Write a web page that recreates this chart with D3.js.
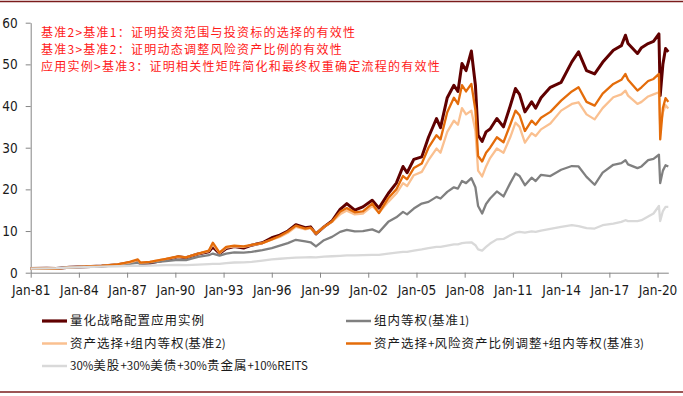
<script src='https://d3js.org/d3.v7.min.js'></script>

<style>
  body {
    margin: 0;
    background: #fff;
  }

  svg text {
    font-family: "Liberation Sans Narrow", "DejaVu Sans Condensed", Arial, sans-serif;
  }

  .axis path,
  .axis line {
    stroke: #868686;
  }

  .axis text {
    fill: #1a1a1a;
    font-size: 13.5px;
  }

  .note text {
    fill: #ff1a1a;
    font-family: "Noto Sans CJK SC", sans-serif;
    font-size: 12px;
    letter-spacing: 1.25px;
  }

  .legend text {
    fill: #1a1a1a;
    font-family: "Noto Sans CJK SC", sans-serif;
    font-size: 12.5px;
    letter-spacing: 1px;
  }

  .legend tspan.latin {
    font-size: 11.5px;
    letter-spacing: 0;
  }
</style>

<body>
<script>
  // monthly points (not every month)
  var dates = ["1981-01", "1982-01", "1982-08", "1983-06", "1984-06", "1985-06", "1986-06", "1987-03", "1987-09", "1987-11",
    "1988-06", "1989-06", "1990-03", "1990-09", "1991-06", "1992-02", "1992-05", "1992-10", "1993-03", "1993-09",
    "1994-04", "1994-10", "1995-06", "1996-01", "1996-07", "1997-01", "1997-07", "1998-02", "1998-06", "1998-10",
    "1999-04", "1999-10", "2000-04", "2000-09", "2001-03", "2001-09", "2002-04", "2002-09", "2003-04", "2003-10",
    "2004-03", "2004-06", "2004-11", "2005-05", "2005-10", "2006-04", "2006-07", "2006-12", "2007-05", "2007-08",
    "2007-11", "2008-02", "2008-06", "2008-09", "2008-11", "2009-02", "2009-05", "2009-08", "2010-01", "2010-06",
    "2010-11", "2011-03", "2011-06", "2011-10", "2012-03", "2012-06", "2012-10", "2013-05", "2014-01", "2014-09",
    "2015-02", "2015-08", "2016-02", "2016-08", "2017-04", "2017-10", "2018-01", "2018-03", "2018-10", "2019-01",
    "2019-06", "2019-10", "2020-02", "2020-03", "2020-05", "2020-07", "2020-09"];

  var shili = [1.0, 1.05, 1.0, 1.3, 1.4, 1.6, 1.9, 2.4, 2.7, 2.2,
    2.3, 3.1, 3.8, 3.6, 4.5, 5.0, 6.2, 4.6, 5.8, 6.3,
    5.9, 6.6, 7.2, 8.4, 9.0, 10.0, 11.5, 10.8, 11.0, 9.3,
    11.0, 12.4, 15.2, 16.6, 15.0, 15.8, 17.4, 15.5, 19.0, 21.5,
    25.5, 24.0, 27.2, 27.8, 32.5, 37.0, 34.8, 42.0, 45.0, 43.5,
    50.2, 48.5, 53.2, 45.0, 33.0, 31.5, 33.8, 34.5, 37.0, 35.0,
    40.0, 44.2, 42.8, 38.6, 41.0, 39.5, 42.0, 44.5, 45.7, 50.6,
    53.0, 48.5, 47.7, 50.5, 53.4, 54.5, 57.0, 55.0, 52.6, 54.0,
    55.0, 55.5, 57.3, 42.5, 50.0, 53.8, 53.0];

  var jizhun1 = [1.0, 1.05, 1.05, 1.3, 1.4, 1.55, 1.8, 2.1, 2.4, 2.1,
    2.4, 2.8, 3.1, 3.0, 3.8, 4.2, 4.6, 4.1, 4.6, 4.9,
    4.8, 5.0, 5.4, 5.9, 6.5, 7.1, 7.9, 7.5, 7.3, 6.3,
    7.8, 8.6, 9.8, 10.3, 9.9, 10.0, 10.4, 9.7, 12.2, 13.3,
    14.6, 14.0, 15.4, 16.6, 17.0, 18.2, 17.8, 19.4, 20.5, 20.2,
    22.0, 21.5, 22.7, 20.5, 16.0, 14.2, 16.5, 17.8, 19.5, 18.3,
    21.5, 23.8, 23.2, 21.0, 22.8, 22.0, 23.5, 23.2, 24.7, 25.6,
    25.5, 23.0, 21.1, 24.0, 25.9, 26.3, 27.0, 26.0, 25.1, 25.5,
    27.0, 27.3, 28.3, 21.5, 24.5, 25.8, 25.5];

  var jizhun2 = [1.0, 1.05, 1.0, 1.3, 1.45, 1.65, 2.0, 2.5, 3.0, 2.4,
    2.6, 3.3, 3.8, 3.7, 4.5, 5.2, 6.8, 4.7, 6.0, 6.3,
    6.2, 6.6, 7.1, 7.9, 8.6, 9.6, 11.0, 10.4, 10.7, 9.4,
    11.0, 12.2, 14.0, 14.9, 14.0, 14.2, 16.0, 14.4, 17.0, 19.0,
    21.5, 20.8, 23.4, 24.2, 27.0, 29.8, 28.8, 33.8, 36.5, 35.5,
    39.5, 38.0, 38.9, 34.0, 24.5, 23.1, 25.5, 27.5, 29.8, 28.8,
    32.5, 36.0, 35.0, 31.2, 33.5, 32.8, 34.4, 35.8, 38.9, 40.5,
    40.9, 38.0, 36.8, 39.5, 42.1, 42.8, 43.7, 42.5, 40.5, 41.0,
    42.3, 42.8, 43.3, 35.0, 38.5, 40.2, 39.4];

  var jizhun3 = [1.0, 1.05, 1.0, 1.3, 1.45, 1.65, 2.0, 2.6, 3.2, 2.4,
    2.6, 3.3, 3.9, 3.7, 4.6, 5.3, 7.2, 4.8, 6.2, 6.5,
    6.3, 6.7, 7.1, 8.0, 8.8, 9.9, 11.3, 10.6, 10.8, 9.4,
    11.0, 12.3, 14.6, 15.5, 14.5, 14.7, 16.6, 14.3, 17.9, 20.0,
    23.2, 22.4, 25.1, 26.2, 30.0, 33.0, 32.0, 38.5, 42.0, 40.5,
    45.0, 43.5, 45.3, 39.0, 28.0, 26.7, 28.8, 30.0, 32.5, 31.3,
    35.5, 38.9, 37.8, 34.0, 36.5, 35.5, 37.2, 38.6, 41.3, 43.5,
    44.5, 41.0, 40.1, 43.0, 45.3, 46.3, 47.7, 46.3, 43.7, 44.5,
    46.0, 46.5, 47.7, 32.0, 39.5, 41.9, 41.0];

  var mix = [1.0, 1.05, 1.1, 1.25, 1.35, 1.45, 1.55, 1.65, 1.7, 1.65,
    1.7, 1.8, 1.85, 1.8, 1.95, 2.05, 2.1, 2.1, 2.3, 2.45,
    2.5, 2.6, 2.9, 3.2, 3.35, 3.5, 3.6, 3.7, 3.75, 3.7,
    3.85, 3.95, 4.05, 4.15, 4.15, 4.2, 4.3, 4.3, 4.6, 4.8,
    5.0, 5.0, 5.3, 5.6, 5.9, 6.2, 6.2, 6.5, 6.8, 6.8,
    7.1, 7.2, 7.3, 6.6, 5.6, 5.3, 6.2, 7.0, 8.0, 8.1,
    9.0, 9.6, 9.8, 9.6, 9.9, 9.8, 10.1, 10.5, 11.0, 11.4,
    11.2, 10.7, 10.6, 11.4, 11.8, 12.2, 12.6, 12.4, 12.4, 12.6,
    13.5, 14.2, 16.0, 12.4, 14.8, 15.8, 15.8];

  var names = ["量化战略配置应用实例", "组内等权(基准1)", "资产选择+组内等权(基准2)",
    "资产选择+风险资产比例调整+组内等权(基准3)", "30%美股+30%美债+30%贵金属+10%REITS"];
  var values = [shili, jizhun1, jizhun2, jizhun3, mix];

  var notes = ["基准2>基准1：证明投资范围与投资标的选择的有效性",
    "基准3>基准2：证明动态调整风险资产比例的有效性",
    "应用实例>基准3：证明相关性矩阵简化和最终权重确定流程的有效性"];

  var yTicks = [0, 10, 20, 30, 40, 50, 60];

  var colors = ["#600000", "#808080", "#fac090", "#e46c0a", "#d9d9d9"];
  var widths = [3, 2.3, 2.3, 2.3, 2.3];

  var W = 683,
    H = 396;
  var plotL = 30.7,
    plotR = 668.3,
    plotT = 22.7,
    plotB = 272.7;

  var parse = d3.timeParse("%Y-%m");
  var dd = dates.map(parse);

  var svg = d3.select("body")
    .append("svg")
    .attr("width", W)
    .attr("height", H)
    .style("display", "block");

  // frame lines top and bottom
  svg.append("line").attr("x1", 0).attr("x2", W).attr("y1", 1.5).attr("y2", 1.5)
    .attr("stroke", "#7b1c1c").attr("stroke-width", 1.5);
  svg.append("line").attr("x1", 0).attr("x2", W).attr("y1", 392).attr("y2", 392)
    .attr("stroke", "#7b1c1c").attr("stroke-width", 1.5);

  var x = d3.scaleTime()
    .domain([parse("1981-01"), parse("2020-09")])
    .range([plotL, plotR]);

  var y = d3.scaleLinear()
    .domain([0, 60])
    .range([plotB, plotT]);

  var xTicks = d3.range(1981, 2021, 3).map(function(yr) {
    return new Date(yr, 0, 1);
  });

  svg.append("g")
    .attr("class", "axis")
    .attr("transform", "translate(0," + plotB + ")")
    .call(d3.axisBottom(x).tickValues(xTicks).tickFormat(d3.timeFormat("%b-%y")).tickSize(5).tickSizeOuter(0).tickPadding(8));

  svg.append("g")
    .attr("class", "axis")
    .attr("transform", "translate(" + plotL + ",0)")
    .call(d3.axisLeft(y).tickValues(yTicks).tickSize(5).tickSizeOuter(0).tickPadding(8));

  var line = d3.line()
    .x(function(d, i) {
      return x(dd[i]);
    })
    .y(function(d) {
      return y(d);
    });

  values.forEach(function(v, k) {
    svg.append("path")
      .datum(v)
      .attr("fill", "none")
      .attr("stroke", colors[k])
      .attr("stroke-width", widths[k])
      .attr("stroke-linejoin", "round")
      .attr("d", line);
  });

  // red notes top left
  svg.append("g")
    .attr("class", "note")
    .selectAll("text")
    .data(notes)
    .enter()
    .append("text")
    .attr("x", 41)
    .attr("y", function(d, i) {
      return 37 + i * 17.2;
    })
    .text(function(d) {
      return d;
    });

  // legend, two columns
  var leg = svg.append("g")
    .attr("class", "legend")
    .selectAll("g")
    .data(names)
    .enter()
    .append("g")
    .attr("transform", function(d, i) {
      var lx = (i % 2 == 0) ? 42 : 346;
      var ly = 321 + Math.floor(i / 2) * 22.5;
      return "translate(" + lx + "," + ly + ")";
    });

  leg.append("line")
    .attr("x1", 0)
    .attr("x2", 25)
    .attr("stroke", function(d, i) {
      return colors[i];
    })
    .attr("stroke-width", function(d, i) {
      return widths[i] + 0.2;
    });

  var legText = leg.append("text")
    .attr("x", 28)
    .attr("dy", "0.35em");

  // latin runs are narrower than the chinese ones in the original
  legText.selectAll("tspan")
    .data(function(d) {
      return d.match(/[\x00-\x7f]+|[^\x00-\x7f]+/g);
    })
    .enter()
    .append("tspan")
    .attr("class", function(d) {
      return /^[\x00-\x7f]/.test(d) ? "latin" : null;
    })
    .text(function(d) {
      return d;
    });
</script>
</body>
